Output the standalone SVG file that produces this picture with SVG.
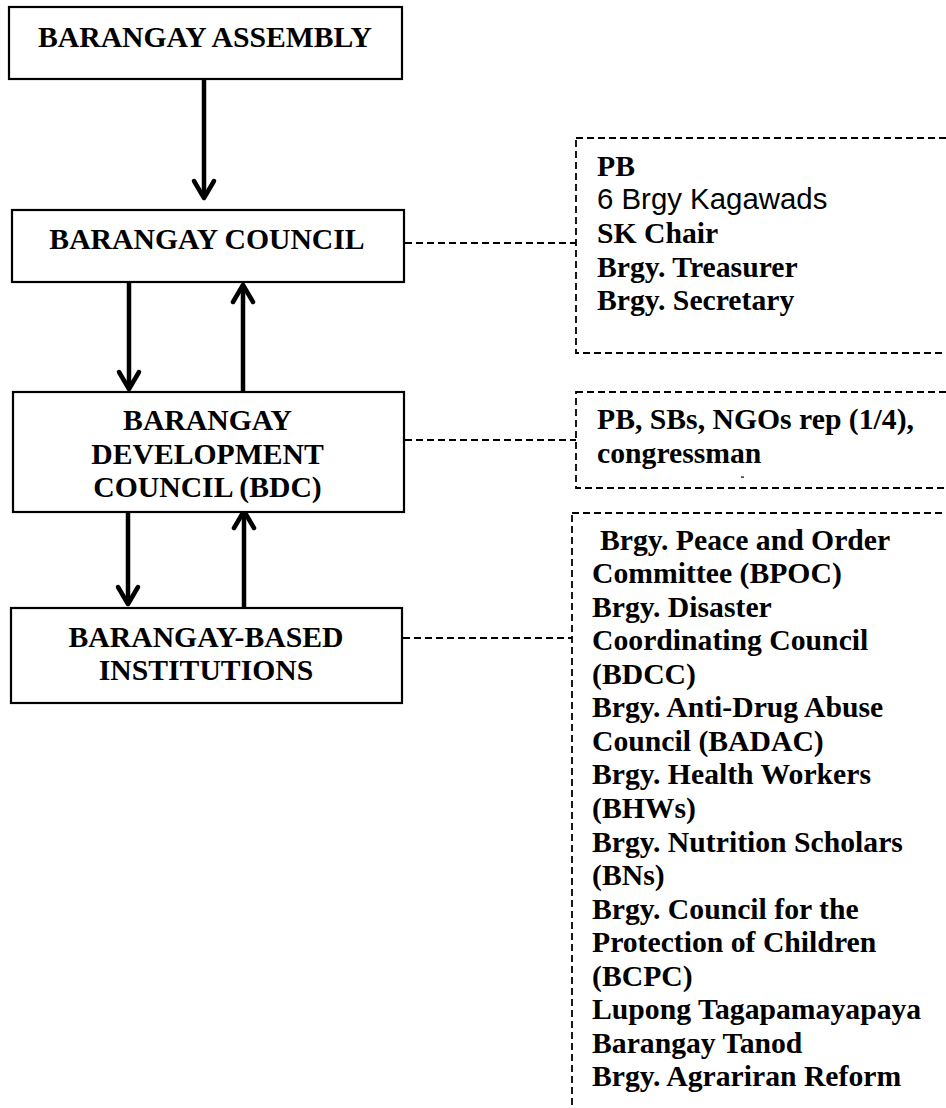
<svg xmlns="http://www.w3.org/2000/svg" width="946" height="1108" viewBox="0 0 946 1108">
<style>
.box{fill:#fff;stroke:#000;stroke-width:2.2}
.panel{fill:none;stroke:#000;stroke-width:1.8;stroke-dasharray:7 4}
.dash{fill:none;stroke:#000;stroke-width:1.8;stroke-dasharray:7 4}
.arrow{fill:none;stroke:#000;stroke-width:4.5;marker-end:url(#ah)}
.t{font-family:"Liberation Serif","Times New Roman",serif;font-weight:bold;font-size:29.7px;fill:#000}
.c{text-anchor:middle}
.s{font-family:"Liberation Sans",Arial,sans-serif;font-weight:normal;font-size:29.4px;fill:#000}
</style>
<defs>
<marker id="ah" markerUnits="userSpaceOnUse" markerWidth="40" markerHeight="40" viewBox="-25 -20 40 40" refX="0" refY="0" orient="auto" overflow="visible">
<path d="M-17,-10 L0,0 L-17,10" fill="none" stroke="#000" stroke-width="4.5" stroke-linecap="round" stroke-linejoin="round"/>
</marker>
</defs>
<rect width="946" height="1108" fill="#fff"/>

<g id="connectors">
<line class="arrow" x1="204" y1="79" x2="204" y2="198"/>
<line class="arrow" x1="129" y1="282" x2="129" y2="389"/>
<line class="arrow" x1="243" y1="391" x2="243" y2="285"/>
<line class="arrow" x1="128" y1="512" x2="128" y2="604"/>
<line class="arrow" x1="244" y1="607" x2="244" y2="511"/>
<line class="dash" x1="405" y1="243" x2="576" y2="243"/>
<line class="dash" x1="405" y1="440" x2="576" y2="440"/>
<line class="dash" x1="403" y1="638" x2="572" y2="638"/>
</g>

<g id="assembly">
<rect class="box" x="9" y="7" width="393" height="72"/>
<text class="t c" x="205" y="47">BARANGAY ASSEMBLY</text>
</g>

<g id="council">
<rect class="box" x="12" y="210" width="392" height="72"/>
<text class="t c" x="207" y="249">BARANGAY COUNCIL</text>
</g>

<g id="bdc">
<rect class="box" x="13" y="392" width="391" height="120"/>
<text class="t c" x="207.5" y="430">BARANGAY</text>
<text class="t c" x="207.5" y="464">DEVELOPMENT</text>
<text class="t c" x="207.5" y="497">COUNCIL (BDC)</text>
</g>

<g id="institutions">
<rect class="box" x="11" y="608" width="391" height="95"/>
<text class="t c" x="206" y="647">BARANGAY-BASED</text>
<text class="t c" x="206" y="680">INSTITUTIONS</text>
</g>

<g id="council-members">
<rect class="panel" x="576" y="138" width="400" height="215"/>
<text class="t" x="597" y="176">PB</text>
<text class="s" x="597" y="209">6 Brgy Kagawads</text>
<text class="t" x="597" y="243">SK Chair</text>
<text class="t" x="597" y="277">Brgy. Treasurer</text>
<text class="t" x="597" y="310">Brgy. Secretary</text>
</g>

<g id="bdc-members">
<rect class="panel" x="576" y="392" width="400" height="96"/>
<text class="t" x="597" y="429">PB, SBs, NGOs rep (1/4),</text>
<text class="t" x="597" y="463">congressman</text>
<rect x="741" y="476.5" width="3" height="1.2" fill="#000"/>
</g>

<g id="institution-members">
<rect class="panel" x="572" y="513" width="404" height="640"/>
<text class="t" x="600" y="550">Brgy. Peace and Order</text>
<text class="t" x="592" y="583">Committee (BPOC)</text>
<text class="t" x="592" y="617">Brgy. Disaster</text>
<text class="t" x="592" y="650">Coordinating Council</text>
<text class="t" x="592" y="684">(BDCC)</text>
<text class="t" x="592" y="717">Brgy. Anti-Drug Abuse</text>
<text class="t" x="592" y="751">Council (BADAC)</text>
<text class="t" x="592" y="784">Brgy. Health Workers</text>
<text class="t" x="592" y="818">(BHWs)</text>
<text class="t" x="592" y="852">Brgy. Nutrition Scholars</text>
<text class="t" x="592" y="885">(BNs)</text>
<text class="t" x="592" y="919">Brgy. Council for the</text>
<text class="t" x="592" y="952">Protection of Children</text>
<text class="t" x="592" y="986">(BCPC)</text>
<text class="t" x="592" y="1019">Lupong Tagapamayapaya</text>
<text class="t" x="592" y="1053">Barangay Tanod</text>
<text class="t" x="592" y="1086">Brgy. Agrariran Reform</text>
</g>
</svg>
